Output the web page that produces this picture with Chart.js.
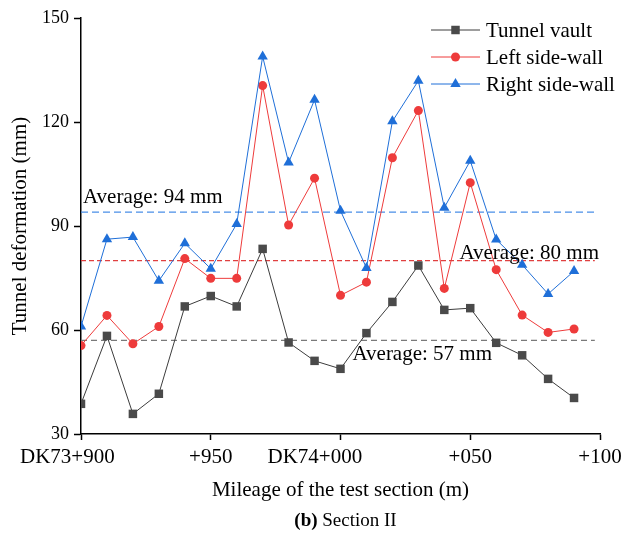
<!DOCTYPE html>
<html>
<head>
<meta charset="utf-8">
<script src="https://cdn.jsdelivr.net/npm/chart.js@4"></script>
<style>
	body { margin: 0; background: #fff; }
	#wrap { width: 624px; height: 536px; position: relative; }
</style>
</head>
<body>
<div id="wrap"><canvas id="graph"></canvas></div>
<script>
// Mileage (m) of each measuring point, DK73+900 .. DK74+090
var mileage = [900, 910, 920, 930, 940, 950, 960, 970, 980, 990, 1000, 1010, 1020, 1030, 1040, 1050, 1060, 1070, 1080, 1090];
// Deformation (mm)
var vault = [38.7, 58.3, 35.8, 41.6, 66.8, 69.8, 66.8, 83.4, 56.4, 51.1, 48.8, 59.1, 68.1, 78.6, 65.8, 66.3, 56.3, 52.7, 45.9, 40.4];
var left_wall = [55.5, 64.2, 56.0, 61.0, 80.6, 74.9, 74.9, 130.5, 90.3, 103.8, 70.0, 73.8, 109.7, 123.3, 72.0, 102.5, 77.4, 64.3, 59.3, 60.3];
var right_wall = [61.0, 86.2, 86.8, 74.2, 85.0, 77.7, 90.6, 138.9, 108.3, 126.4, 94.4, 77.9, 120.2, 131.9, 95.3, 108.8, 86.1, 78.8, 70.4, 77.0];
var series_names = ["Tunnel vault", "Left side-wall", "Right side-wall"];

// Average lines
var averages = [57, 80, 94];
var average_labels = ["Average: 57 mm", "Average: 80 mm", "Average: 94 mm"];
var average_span = [900, 1098];

// Axis ticks
var x_tick_values = [900, 950, 1000, 1050, 1100];
var x_tick_labels = ["DK73+900", "+950", "DK74+000", "+050", "+100"];

// Colors
var vault_color = "#3c3c3c";
var vault_marker = "#4a4a4a";
var left_color = "#ee3b3b";
var right_color = "#1f6fd8";
var avg_colors = ["#7a7a7a", "#e04040", "#4a8fe8"];

var serif = "'Liberation Serif', 'Times New Roman', serif";

function points(values) {
	return values.map((v, i) => ({ x: mileage[i], y: v }));
}
function avgLine(v) {
	return [{ x: average_span[0], y: v }, { x: average_span[1], y: v }];
}

var markers = [
	{ color: vault_color, fill: vault_marker, style: "rect", radius: 6 },
	{ color: left_color, fill: left_color, style: "circle", radius: 4.5 },
	{ color: right_color, fill: right_color, style: "triangle", radius: 6 }
];

var datasets = [vault, left_wall, right_wall].map((vals, i) => ({
	label: series_names[i],
	data: points(vals),
	borderColor: markers[i].color,
	backgroundColor: markers[i].fill,
	pointBackgroundColor: markers[i].fill,
	pointBorderColor: markers[i].fill,
	pointBorderWidth: 0,
	pointStyle: markers[i].style,
	pointRadius: markers[i].radius,
	borderWidth: 1,
	order: 3 - i
}));
var dashes = [[6, 4], [5, 3], [7, 4]];
averages.forEach((v, i) => {
	datasets.push({
		label: average_labels[i],
		data: avgLine(v),
		borderColor: avg_colors[i],
		borderDash: dashes[i],
		borderWidth: 1.2,
		pointRadius: 0,
		order: 10
	});
});

// Draws the x tick labels, the average labels, the legend and the caption
var extras = {
	id: "extras",
	afterDraw(chart) {
		var ctx = chart.ctx;
		var xs = chart.scales.x, ys = chart.scales.y;
		var area = chart.chartArea;
		ctx.save();
		ctx.fillStyle = "#000";

		// x tick labels: the "+xxx" part sits on the tick
		ctx.font = "21px " + serif;
		ctx.textBaseline = "middle";
		ctx.textAlign = "left";
		x_tick_values.forEach((v, i) => {
			var lab = x_tick_labels[i];
			var k = lab.indexOf("+");
			var pre = lab.slice(0, k), suf = lab.slice(k);
			var px = xs.getPixelForValue(v);
			var l = px - ctx.measureText(suf).width / 2 - ctx.measureText(pre).width;
			l = Math.max(l, 20);
			ctx.fillText(lab, l, area.bottom + 23);
		});

		// average labels
		ctx.textBaseline = "alphabetic";
		ctx.textAlign = "left";
		ctx.fillText(average_labels[2], area.left + 2, ys.getPixelForValue(averages[2]) - 9);
		ctx.textAlign = "right";
		ctx.fillText(average_labels[1], area.right - 1, ys.getPixelForValue(averages[1]) - 2);
		ctx.textAlign = "left";
		ctx.fillText(average_labels[0], xs.getPixelForValue(1010) - 14, ys.getPixelForValue(averages[0]) + 20);

		// legend
		ctx.textBaseline = "middle";
		for (var i = 0; i < 3; i++) {
			var y = area.top + 12 + i * 27;
			ctx.strokeStyle = markers[i].color;
			ctx.lineWidth = 1;
			ctx.beginPath();
			ctx.moveTo(431, y);
			ctx.lineTo(480, y);
			ctx.stroke();
			ctx.fillStyle = markers[i].fill;
			Chart.helpers.drawPoint(ctx, { pointStyle: markers[i].style, radius: markers[i].radius, borderWidth: 0 }, 455.5, y);
			ctx.fillStyle = "#000";
			ctx.fillText(series_names[i], 486, y + 1);
		}

		// caption
		var cx = (area.left + area.right) / 2 + 5;
		ctx.font = "bold 19px " + serif;
		var w1 = ctx.measureText("(b)").width;
		ctx.font = "19px " + serif;
		var w2 = ctx.measureText(" Section II").width;
		var x0 = cx - (w1 + w2) / 2;
		ctx.textAlign = "left";
		ctx.font = "bold 19px " + serif;
		ctx.fillText("(b)", x0, 521);
		ctx.font = "19px " + serif;
		ctx.fillText(" Section II", x0 + w1, 521);
		ctx.restore();
	}
};

Chart.defaults.font.family = serif;
Chart.defaults.color = "#000";

var graph = new Chart(document.getElementById("graph").getContext("2d"), {
	type: "line",
	data: { datasets: datasets },
	plugins: [extras],
	options: {
		responsive: true,
		maintainAspectRatio: false,
		animation: false,
		layout: { padding: { left: 0, top: 18, right: 24, bottom: 33 } },
		plugins: { legend: { display: false }, tooltip: { enabled: false } },
		scales: {
			x: {
				type: "linear",
				min: 900,
				max: 1100,
				afterBuildTicks: (s) => { s.ticks = x_tick_values.map(v => ({ value: v })); },
				afterFit: (s) => { s.height = 69; },
				ticks: { display: false },
				grid: { display: true, drawOnChartArea: false, drawTicks: true, tickLength: 6, tickColor: "#000", tickWidth: 1.5 },
				border: { display: true, color: "#000", width: 1.5 },
				title: { display: true, text: "Mileage of the test section (m)", font: { size: 21 }, padding: { top: 0, bottom: 0 } }
			},
			y: {
				min: 30,
				max: 150,
				ticks: { stepSize: 30, font: { size: 18 }, padding: 5 },
				afterFit: (s) => { s.width = 81; },
				grid: { display: true, drawOnChartArea: false, drawTicks: true, tickLength: 7, tickColor: "#000", tickWidth: 1.5 },
				border: { display: true, color: "#000", width: 1.5 },
				title: { display: true, text: "Tunnel deformation (mm)", font: { size: 21 }, padding: { top: 8, bottom: 0 } }
			}
		}
	}
});
</script>
</body>
</html>
